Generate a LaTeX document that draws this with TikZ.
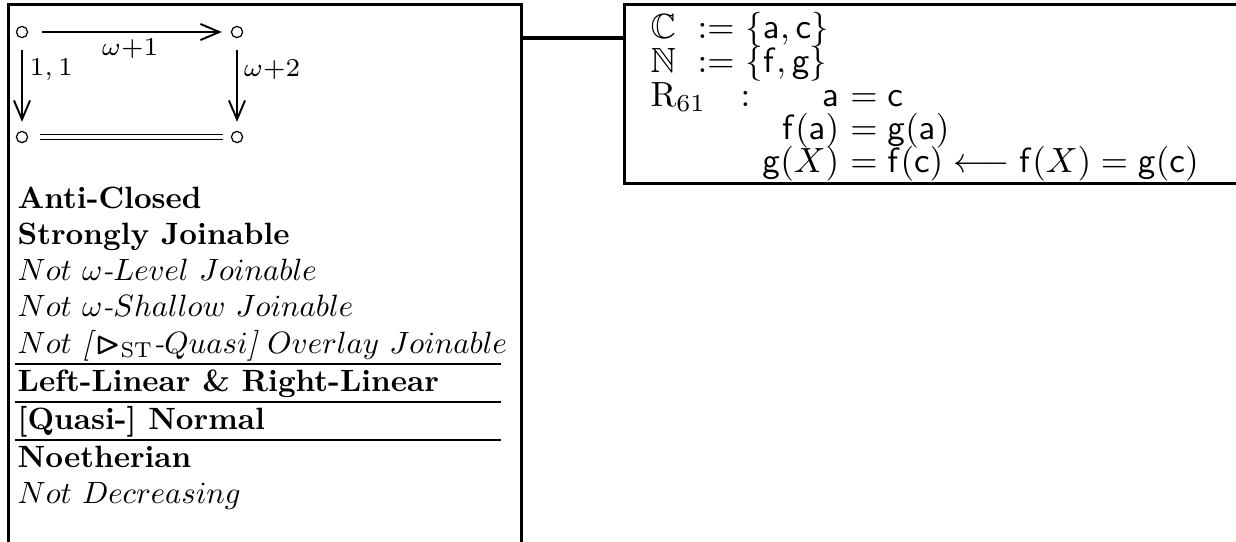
\documentclass[tikz,border=0pt]{standalone}
\usepackage{amsmath}
\usepackage{amssymb}
\usetikzlibrary{arrows.meta}
\newcommand\pu{0.2857pt}
\newcommand\LB[1]{\scalebox{0.88}{#1}}
\newcommand\LL[1]{\scalebox{1.05}{#1}}
\begin{document}
\begin{tikzpicture}[x=0.2857pt,y=-0.2857pt,
  boxline/.style={line width=0.9pt},
  rulel/.style={line width=0.6pt},
  dot/.style={circle,draw,line width=0.35pt,inner sep=0pt,minimum size=3.2pt},
  arr/.style={line width=0.55pt,-{Straight Barb[length=5.4pt,width=4.6pt,line width=0.55pt]}},
  lbl/.style={inner sep=0pt},
  txt/.style={inner sep=0pt,anchor=base west},
  rtxt/.style={inner sep=0pt,anchor=base west},
  eql/.style={inner sep=0pt,anchor=base east},
  eqr/.style={inner sep=0pt,anchor=base west}]
\useasboundingbox (0,0) rectangle (1236,541);
% boxes
\node[draw,boxline,anchor=north west,minimum width=513*\pu,minimum height=700*\pu,inner sep=0pt] (lbox) at (7,3) {};
\node[draw,boxline,anchor=north west,minimum width=700*\pu,minimum height=179*\pu,inner sep=0pt] (rbox) at (623,3) {};
\coordinate (cy) at (0,38);
\draw[boxline] (lbox.east |- cy) -- (rbox.west |- cy);
% diagram
\node[dot] (d1) at (22,32) {};
\node[dot] (d2) at (237,32) {};
\node[dot] (d3) at (22,137) {};
\node[dot] (d4) at (237,137) {};
\draw[arr,shorten <=14*\pu,shorten >=9*\pu] (d1) -- (d2);
\draw[arr,shorten <=12*\pu,shorten >=9*\pu] (d1) -- (d3);
\draw[arr,shorten <=12*\pu,shorten >=9*\pu] (d2) -- (d4);
\draw[double,double distance=1.0pt,line width=0.35pt,shorten <=12*\pu,shorten >=8*\pu] (d3) -- (d4);
\node[lbl] (l1) at (130,49) {\LL{$\scriptstyle\omega+1$}};
\node[lbl,anchor=west] (l2) at (29,70) {\LL{$\scriptstyle1,\,1$}};
\node[lbl,anchor=west] (l3) at (243,70) {\LL{$\scriptstyle\omega+2$}};
% left text
\node[txt] (t1) at (17,208) {\LB{\textbf{Anti-Closed}}};
\node[txt] (t2) at (17,244) {\LB{\textbf{Strongly Joinable}}};
\node[txt] (t3) at (17,280) {\LB{$Not\ \omega\mbox{\itshape -}Level\ Joinable$}};
\node[txt] (t4) at (17,316) {\LB{$Not\ \omega\mbox{\itshape -}Shallow\ Joinable$}};
\node[txt] (t5) at (17,353) {\LB{$Not\ \mbox{\itshape [}\,{\pmb{\vartriangleright}}_{\mathrm{ST}}\mbox{\itshape -}Quasi\mbox{\itshape ]}\ Overlay\ Joinable$}};
\draw[rulel] (15,364) -- (501,364);
\node[txt] (t6) at (17,391) {\LB{\textbf{Left-Linear \& Right-Linear}}};
\draw[rulel] (15,402) -- (501,402);
\node[txt] (t7) at (17,429) {\LB{\textbf{[Quasi-] Normal}}};
\draw[rulel] (15,440) -- (501,440);
\node[txt] (t8) at (17,467) {\LB{\textbf{Noetherian}}};
\node[txt] (t9) at (17,503) {\LB{$Not\ Decreasing$}};
% right text
\node[rtxt] (r1) at (650,38) {$\mathbb{C}$};
\node[rtxt] (r1b) at (697,38) {$:=$};
\node[rtxt] (r1c) at (745,38) {$\{\mathsf{a},\mathsf{c}\}$};
\node[rtxt] (r2) at (650,72) {$\mathbb{N}$};
\node[rtxt] (r2b) at (697,72) {$:=$};
\node[rtxt] (r2c) at (745,72) {$\{\mathsf{f},\mathsf{g}\}$};
\node[rtxt] (r3) at (650,106) {$\mathrm{R}_{61}$};
\node[rtxt] (r3b) at (740,106) {$:$};
\node[eql] (e1l) at (840,106) {$\mathsf{a}$};
\node[eqr] (e1r) at (840,106) {${}=\mathsf{c}$};
\node[eql] (e2l) at (840,139) {$\mathsf{f}(\mathsf{a})$};
\node[eqr] (e2r) at (840,139) {${}=\mathsf{g}(\mathsf{a})$};
\node[eql] (e3l) at (840,172) {$\mathsf{g}(X)$};
\node[eqr] (e3r) at (840,172) {${}=\mathsf{f}(\mathsf{c})\longleftarrow\mathsf{f}(X)=\mathsf{g}(\mathsf{c})$};
\end{tikzpicture}
\end{document}
